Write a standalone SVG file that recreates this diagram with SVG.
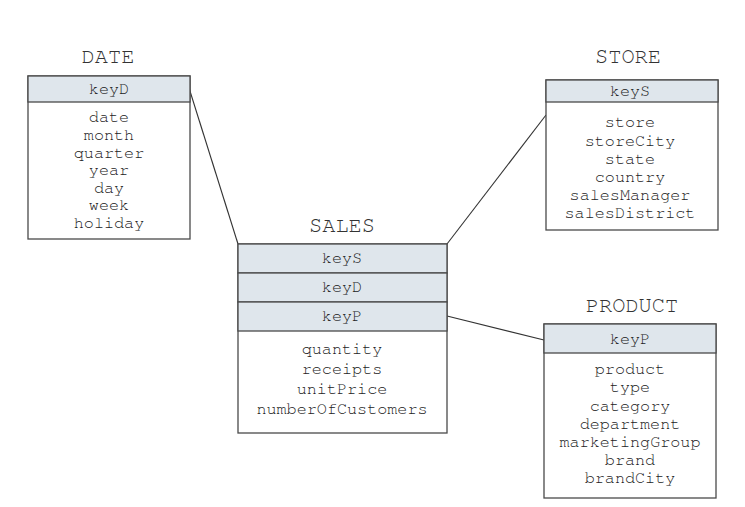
<svg xmlns="http://www.w3.org/2000/svg" width="745" height="507" viewBox="0 0 745 507">
<style>
.box{fill:#fff;stroke:#4a4a4a;stroke-width:1.3}
.key{fill:#dfe6ec;stroke:#4a4a4a;stroke-width:1.3}
.t{font-family:"Nimbus Mono PS","FreeMono","Courier New","Liberation Mono",monospace;font-size:16.8px;fill:#222;text-anchor:middle}
.title{font-family:"Nimbus Mono PS","FreeMono","Courier New","Liberation Mono",monospace;font-size:22px;fill:#333;text-anchor:middle}
.conn{stroke:#333;stroke-width:1.1;fill:none}
</style>
<rect width="745" height="507" fill="#fff"/>
<g id="connectors">
<line class="conn" x1="189" y1="88" x2="238" y2="244"/>
<line class="conn" x1="546" y1="115" x2="447" y2="244"/>
<line class="conn" x1="447" y1="316" x2="544" y2="340"/>
</g>
<g id="date">
<text class="title" x="108" y="63">DATE</text>
<rect class="box" x="28" y="76" width="162" height="163"/>
<rect class="key" x="28" y="76" width="162" height="26"/>
<text class="t" x="109" y="94">keyD</text>
<text class="t" x="109" y="122">date</text>
<text class="t" x="109" y="140">month</text>
<text class="t" x="109" y="158">quarter</text>
<text class="t" x="109" y="175">year</text>
<text class="t" x="109" y="193">day</text>
<text class="t" x="109" y="210">week</text>
<text class="t" x="109" y="228">holiday</text>
</g>
<g id="store">
<text class="title" x="628" y="63">STORE</text>
<rect class="box" x="546" y="80" width="172" height="150"/>
<rect class="key" x="546" y="80" width="172" height="22"/>
<text class="t" x="630" y="96">keyS</text>
<text class="t" x="630" y="127">store</text>
<text class="t" x="630" y="146">storeCity</text>
<text class="t" x="630" y="164">state</text>
<text class="t" x="630" y="182">country</text>
<text class="t" x="630" y="200">salesManager</text>
<text class="t" x="630" y="218">salesDistrict</text>
</g>
<g id="sales">
<text class="title" x="342" y="232">SALES</text>
<rect class="box" x="238" y="244" width="209" height="189"/>
<rect class="key" x="238" y="244" width="209" height="29"/>
<rect class="key" x="238" y="273" width="209" height="29"/>
<rect class="key" x="238" y="302" width="209" height="29"/>
<text class="t" x="342" y="263">keyS</text>
<text class="t" x="342" y="292">keyD</text>
<text class="t" x="342" y="321">keyP</text>
<text class="t" x="342" y="354">quantity</text>
<text class="t" x="342" y="374">receipts</text>
<text class="t" x="342" y="394">unitPrice</text>
<text class="t" x="342" y="414">numberOfCustomers</text>
</g>
<g id="product">
<text class="title" x="632" y="312">PRODUCT</text>
<rect class="box" x="544" y="324" width="172" height="174"/>
<rect class="key" x="544" y="324" width="172" height="29"/>
<text class="t" x="630" y="344">keyP</text>
<text class="t" x="630" y="374">product</text>
<text class="t" x="630" y="392">type</text>
<text class="t" x="630" y="411">category</text>
<text class="t" x="630" y="429">department</text>
<text class="t" x="630" y="447">marketingGroup</text>
<text class="t" x="630" y="465">brand</text>
<text class="t" x="630" y="483">brandCity</text>
</g>
</svg>
